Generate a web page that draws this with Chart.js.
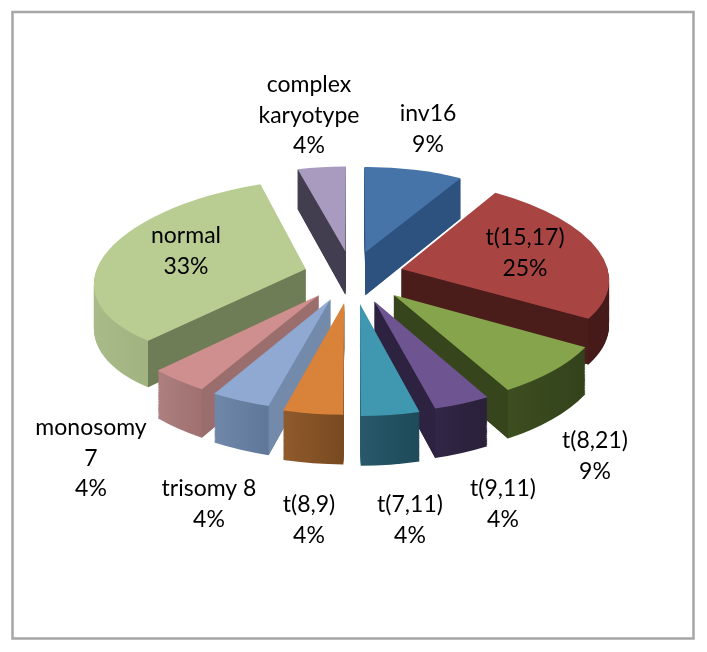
<!DOCTYPE html>
<html>
<head>
<meta charset="utf-8">
<style>
html,body{margin:0;padding:0;background:#fff;}
canvas{display:block;}
</style>
<script src="https://cdn.jsdelivr.net/npm/chart.js@4"></script>
</head>
<body>
<canvas id="c" width="707" height="652"></canvas>
<script>
const categories = ['inv16','t(15,17)','t(8,21)','t(9,11)','t(7,11)','t(8,9)','trisomy 8','monosomy\n7','normal','complex\nkaryotype'];
const values = [8.6,24.7,8.6,4.0,4.1,4.2,4.2,4.2,33.2,4.2];
const explode = [.25,.25,.285,.285,.295,.285,.265,.26,.235,.25];
const topColors  = ['#4674a8','#a84543','#86a44c','#6e5490','#3f97b0','#d9823a','#8fa9d2','#cf8f8e','#b9cc91','#a99bbf'];
const faceColors = ['#2e5280','#4a1c1a','#36451c','#2d2340','#1f4e5c','#7b4b20','#748aab','#9b6e6e','#6f7d56','#423e50'];
const wallLeft   = ['#2e5280','#4f201d','#3d4e20','#312645','#27596a','#905b2c','#6f88aa','#ad7f7f','#a9bb88','#423e50'];
const wallRight  = ['#2e5280','#451a18','#33421b','#2a2039','#1e4a59','#784920','#5f7899','#a07070','#8c9e70','#423e50'];
const labelCenters = [[428,114],[525,238],[595,441],[503,489],[410,505],[309,505],[209,489],[91,428],[186,236],[309,85]];
const view = {x0:352, y0:275, a:205, b:96.6, persp:.089, depth:44, lineHeight:30.5};

function project(u,v,z){
  const f = 1/(1-view.persp*v);
  return {x:view.x0+view.a*u*f, y:view.y0+view.b*v*f+z*f};
}
function sliceInfo(el,i){
  const p = el.getProps(['x','y','startAngle','endAngle','outerRadius']);
  const mid = (p.startAngle+p.endAngle)/2;
  return {p, mid, ox:explode[i]*Math.cos(mid), oy:explode[i]*Math.sin(mid)};
}
function drawArcAt(ctx,el,info,z,fill){
  const {p,ox,oy} = info;
  const s=p.startAngle,e=p.endAngle,R=p.outerRadius;
  const T=project(ox,oy,z);
  const C0=project(ox+Math.cos(s),oy+Math.sin(s),z);
  const C1=project(ox+Math.cos(e),oy+Math.sin(e),z);
  const ax=R*Math.cos(s),ay=R*Math.sin(s),bx=R*Math.cos(e),by=R*Math.sin(e);
  const det=ax*by-bx*ay;
  const Ax=C0.x-T.x,Ay=C0.y-T.y,Bx=C1.x-T.x,By=C1.y-T.y;
  const m11=(Ax*by-Bx*ay)/det, m12=(Bx*ax-Ax*bx)/det;
  const m21=(Ay*by-By*ay)/det, m22=(By*ax-Ay*bx)/det;
  ctx.save();
  ctx.transform(m11,m21,m12,m22,T.x-(m11*p.x+m12*p.y),T.y-(m21*p.x+m22*p.y));
  const saved=el.options;
  const o=Object.create(saved);
  o.backgroundColor=fill; o.borderWidth=0; o.offset=0; o.spacing=0;
  el.options=o;
  el.draw(ctx);
  el.options=saved;
  ctx.restore();
}
function radialFace(ctx,info,angle,otherAngle,color){
  const {ox,oy}=info;
  const u=ox+Math.cos(angle),v=oy+Math.sin(angle);
  const a=project(ox,oy,0),b=project(u,v,0),c=project(u,v,view.depth),d=project(ox,oy,view.depth);
  // the face shows only when the slice's top surface lies above this edge on screen
  const q=project(ox+Math.cos(otherAngle),oy+Math.sin(otherAngle),0);
  const lineY=a.y+(b.y-a.y)*(q.x-a.x)/((b.x-a.x)||1e-6);
  const sameSpan=Math.abs(b.x-a.x)>1;
  if(!sameSpan) return;
  if(q.y>lineY) return;
  ctx.fillStyle=color;
  ctx.beginPath();ctx.moveTo(a.x,a.y);ctx.lineTo(b.x,b.y);ctx.lineTo(c.x,c.y);ctx.lineTo(d.x,d.y);ctx.closePath();ctx.fill();
}
const pie3d = {
  id:'pie3d',
  beforeDraw(chart){
    const ctx=chart.ctx;
    ctx.save();
    ctx.fillStyle='#fff';ctx.fillRect(0,0,chart.width,chart.height);
    ctx.strokeStyle='#a6a6a6';ctx.lineWidth=2.5;
    ctx.strokeRect(12.5,12,681,626.5);
    ctx.restore();
  },
  beforeDatasetsDraw(chart){
    const ctx=chart.ctx;
    const meta=chart.getDatasetMeta(0);
    const order=meta.data.map((el,i)=>({el,i,info:sliceInfo(el,i)}));
    order.sort((a,b)=>(Math.sin(a.info.mid))-(Math.sin(b.info.mid)));
    order.forEach(({el,i,info})=>{
      const {p}=info;
      const R=p.outerRadius;
      const g=ctx.createLinearGradient(p.x-R,0,p.x+R,0);
      const xs=[Math.cos(p.startAngle),Math.cos(p.endAngle)];
      const lo=(Math.min(...xs)+1)/2, hi=(Math.max(...xs)+1)/2;
      const wide=p.endAngle-p.startAngle>1.5;
      g.addColorStop(wide?0:lo,wallLeft[i]);
      g.addColorStop(wide?Math.max(hi,.5):hi,wallRight[i]);
      for(let z=view.depth;z>0;z-=1) drawArcAt(ctx,el,info,z,g);
      radialFace(ctx,info,p.startAngle,p.endAngle,faceColors[i]);
      radialFace(ctx,info,p.endAngle,p.startAngle,faceColors[i]);
      drawArcAt(ctx,el,info,0,topColors[i]);
    });
    return false;
  },
  afterDraw(chart){
    const ctx=chart.ctx;
    ctx.save();
    ctx.fillStyle='#000';
    ctx.font='23px Lato';
    ctx.textAlign='center';ctx.textBaseline='middle';
    categories.forEach((name,i)=>{
      const lines=name.split('\n').concat(Math.round(values[i])+'%');
      lines.forEach((t,k)=>ctx.fillText(t,labelCenters[i][0],labelCenters[i][1]+k*view.lineHeight));
    });
    ctx.restore();
  }
};
new Chart(document.getElementById('c'),{
  type:'pie',
  data:{labels:categories,datasets:[{data:values,backgroundColor:topColors,borderWidth:0,hoverOffset:0}]},
  options:{
    responsive:false,animation:false,rotation:0,
    events:[],
    plugins:{legend:{display:false},tooltip:{enabled:false},title:{display:false}}
  },
  plugins:[pie3d]
});
</script>
</body>
</html>
